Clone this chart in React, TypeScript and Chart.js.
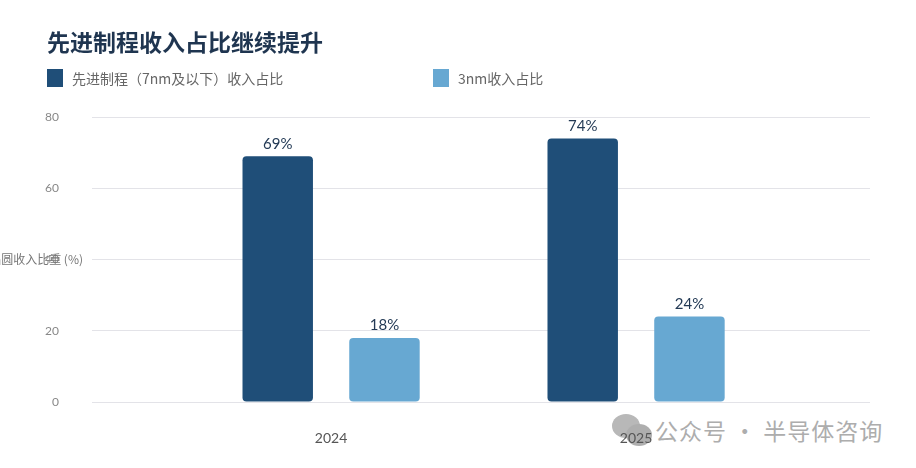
import { useEffect, useRef } from 'react';
import { Chart, registerables, Plugin } from 'chart.js';

Chart.register(...registerables);

const years = [2024, 2025];
const advancedShare = [69, 74];
const n3Share = [18, 24];
const yTicks = [0, 20, 40, 60, 80];

const DARK = '#1f4e78';
const LIGHT = '#67a8d2';
const NUM_FONT = "Lato, 'Noto Sans CJK SC', sans-serif";
const CJK_FONT = "'Noto Sans CJK SC', 'Noto Sans', sans-serif";

// value labels above each bar
const barLabels: Plugin<'bar'> = {
    id: 'barLabels',
    afterDatasetsDraw(chart) {
        const ctx = chart.ctx;
        ctx.save();
        ctx.font = `15px ${NUM_FONT}`;
        ctx.fillStyle = '#233a55';
        ctx.textAlign = 'center';
        ctx.textBaseline = 'bottom';
        chart.data.datasets.forEach((ds, i) => {
            chart.getDatasetMeta(i).data.forEach((bar, j) => {
                const v = (ds.data[j] as { y: number }).y;
                ctx.fillText(`${v}%`, bar.x, bar.y - 5);
            });
        });
        ctx.restore();
    },
};

// horizontal y-axis title, partly off the left edge like the original
const yTitle: Plugin<'bar'> = {
    id: 'yTitle',
    afterDraw(chart) {
        const ctx = chart.ctx;
        const y = chart.scales.y;
        ctx.save();
        ctx.font = `12px ${CJK_FONT}`;
        ctx.fillStyle = '#777';
        ctx.textAlign = 'right';
        ctx.textBaseline = 'middle';
        ctx.fillText('晶圆收入比重 (%)', 83, y.getPixelForValue(40));
        ctx.restore();
    },
};

export default function App() {
    const canvasRef = useRef<HTMLCanvasElement>(null);

    useEffect(() => {
        document.body.style.margin = '0';
        const ctx = canvasRef.current!.getContext('2d')!;

        const chart = new Chart(ctx, {
            type: 'bar',
            data: {
                datasets: [
                    {
                        label: '先进制程（7nm及以下）收入占比',
                        data: years.map((x, i) => ({ x, y: advancedShare[i] })),
                        backgroundColor: DARK,
                        borderRadius: 4,
                        borderSkipped: false,
                        barPercentage: 0.66,
                        categoryPercentage: 0.7,
                    },
                    {
                        label: '3nm收入占比',
                        data: years.map((x, i) => ({ x, y: n3Share[i] })),
                        backgroundColor: LIGHT,
                        borderRadius: 4,
                        borderSkipped: false,
                        barPercentage: 0.66,
                        categoryPercentage: 0.7,
                    },
                ],
            },
            options: {
                animation: false,
                responsive: false,
                layout: { padding: { top: 117, right: 46, left: 0, bottom: 0 } },
                plugins: {
                    legend: { display: false },
                    tooltip: { enabled: false },
                },
                scales: {
                    x: {
                        type: 'linear',
                        offset: false,
                        min: 2023.216,
                        max: 2025.767,
                        afterBuildTicks: (s) => {
                            s.ticks = years.map((v) => ({ value: v }));
                        },
                        afterFit: (s) => {
                            s.height = 66;
                        },
                        grid: { display: false, offset: false },
                        border: { display: false },
                        ticks: {
                            callback: (v) => String(v),
                            color: '#555',
                            padding: 20,
                            font: { family: NUM_FONT, size: 14 },
                        },
                    },
                    y: {
                        min: 0,
                        max: 80,
                        afterBuildTicks: (s) => {
                            s.ticks = yTicks.map((v) => ({ value: v }));
                        },
                        afterFit: (s) => {
                            s.width = 92;
                        },
                        grid: { color: '#e3e3e8', drawTicks: false },
                        border: { display: false },
                        ticks: {
                            color: '#888',
                            padding: 33,
                            font: { family: NUM_FONT, size: 12 },
                        },
                    },
                },
            },
            plugins: [barLabels, yTitle],
        });

        return () => {
            chart.destroy();
        };
    }, []);

    const legendBox = (color: string) => ({
        display: 'inline-block',
        width: 16,
        height: 18,
        background: color,
        verticalAlign: 'middle',
        marginRight: 9,
    });

    return (
        <div style={{ position: 'relative', width: 916, height: 468, background: '#fff', overflow: 'hidden' }}>
            {/* watermark */}
            <div style={{ position: 'absolute', left: 612, top: 413, display: 'flex', alignItems: 'center' }}>
                <div style={{ position: 'relative', width: 43, height: 34 }}>
                    <div style={{ position: 'absolute', left: 0, top: 1, width: 28, height: 24, borderRadius: '50%', background: '#b8b8b8' }} />
                    <div style={{ position: 'absolute', left: 14, top: 11, width: 26, height: 22, borderRadius: '50%', background: '#aeaeae' }} />
                </div>
                <span style={{ fontFamily: CJK_FONT, fontSize: 23, color: '#adadad', letterSpacing: 1 }}>
                    公众号 · 半导体咨询
                </span>
            </div>
            <canvas ref={canvasRef} width={916} height={468} style={{ position: 'absolute', left: 0, top: 0 }} />
            <div
                style={{
                    position: 'absolute',
                    left: 47,
                    top: 24,
                    fontFamily: CJK_FONT,
                    fontSize: 23,
                    fontWeight: 700,
                    color: '#1f3550',
                }}
            >
                先进制程收入占比继续提升
            </div>
            <div style={{ position: 'absolute', left: 47, top: 66, fontFamily: CJK_FONT, fontSize: 14, color: '#666', whiteSpace: 'nowrap' }}>
                <span style={legendBox(DARK)} />
                <span style={{ verticalAlign: 'middle' }}>先进制程（7nm及以下）收入占比</span>
            </div>
            <div style={{ position: 'absolute', left: 433, top: 66, fontFamily: CJK_FONT, fontSize: 14, color: '#666', whiteSpace: 'nowrap' }}>
                <span style={legendBox(LIGHT)} />
                <span style={{ verticalAlign: 'middle' }}>3nm收入占比</span>
            </div>
        </div>
    );
}
